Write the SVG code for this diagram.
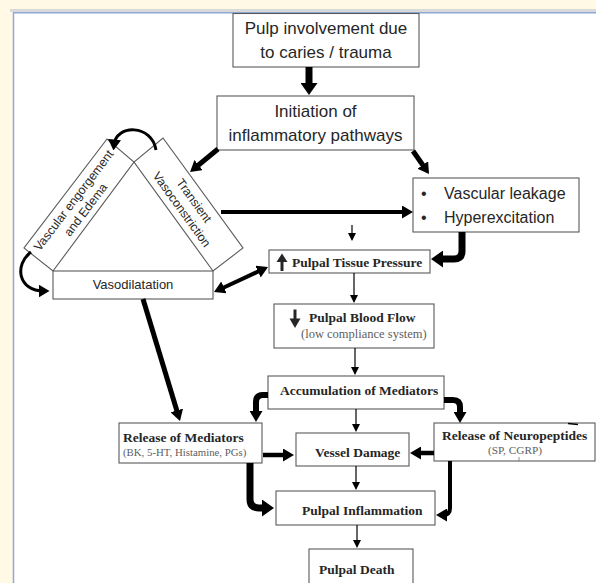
<svg xmlns="http://www.w3.org/2000/svg" width="596" height="583" viewBox="0 0 596 583">
<defs>
<style>
.box{fill:#fff;stroke:#5a5a5a;stroke-width:1.1}
.sans{font-family:"Liberation Sans",Arial,sans-serif;fill:#262626}
.serb{font-family:"Liberation Serif","Times New Roman",serif;font-weight:bold;fill:#262626;font-size:13.5px}
.sub{font-family:"Liberation Serif","Times New Roman",serif;fill:#5e5e5e}
.c{fill:none;stroke:#000}
.thin{stroke-width:1.2;marker-end:url(#hs)}
</style>
<marker id="hb" viewBox="0 0 10 10" preserveAspectRatio="none" markerUnits="userSpaceOnUse" markerWidth="12" markerHeight="17" refX="4" refY="5" orient="auto-start-reverse"><path d="M0,0L10,5L0,10z" fill="#000"/></marker>
<marker id="hm" viewBox="0 0 10 10" preserveAspectRatio="none" markerUnits="userSpaceOnUse" markerWidth="11" markerHeight="13" refX="5" refY="5" orient="auto-start-reverse"><path d="M0,0L10,5L0,10z" fill="#000"/></marker>
<marker id="hs" viewBox="0 0 10 10" preserveAspectRatio="none" markerUnits="userSpaceOnUse" markerWidth="8" markerHeight="8" refX="8" refY="5" orient="auto"><path d="M0,0L10,5L0,10z" fill="#000"/></marker>
</defs>

<rect width="596" height="583" fill="#FFF9E6"/>
<rect x="10" y="9" width="586" height="3" fill="#D9D9D9"/>
<rect x="13.5" y="12.75" width="590" height="580" fill="#fff" stroke="#8EA9D6" stroke-width="1.5"/>

<g id="triangle">
<polygon class="box" points="53,271 134,162 107,139 24,248"/>
<polygon class="box" points="213,271 134,162 163,138 243,248"/>
<text class="sans" font-size="12.3" text-anchor="middle" transform="translate(79.5,205) rotate(-52.7)"><tspan x="0" y="-3.3">Vascular engorgement</tspan><tspan x="0" y="11.9">and Edema</tspan></text>
<text class="sans" font-size="12.3" text-anchor="middle" transform="translate(188,205) rotate(54)"><tspan x="0" y="-3.3">Transient</tspan><tspan x="0" y="11.9">Vasoconstriction</tspan></text>
</g>

<g id="vasodilatation">
<rect class="box" x="53" y="271" width="160" height="28"/>
<text class="sans" font-size="13" x="133" y="289" text-anchor="middle">Vasodilatation</text>
</g>

<g id="pulp-involvement">
<rect class="box" x="233" y="13.5" width="186" height="53.5"/>
<text class="sans" font-size="17" x="326" y="34" text-anchor="middle">Pulp involvement due</text>
<text class="sans" font-size="17" x="326" y="58" text-anchor="middle">to caries / trauma</text>
</g>

<g id="initiation">
<rect class="box" x="217" y="96" width="197" height="54"/>
<text class="sans" font-size="17" x="315.5" y="117" text-anchor="middle">Initiation of</text>
<text class="sans" font-size="17" x="315.5" y="141" text-anchor="middle">inflammatory pathways</text>
</g>

<g id="vascular-leakage">
<rect class="box" x="413" y="178" width="166" height="54"/>
<text class="sans" font-size="16" x="421" y="199">•</text>
<text class="sans" font-size="16" x="444" y="199">Vascular leakage</text>
<text class="sans" font-size="16" x="421" y="223">•</text>
<text class="sans" font-size="16" x="444" y="223">Hyperexcitation</text>
</g>

<g id="tissue-pressure">
<rect class="box" x="269" y="250" width="161" height="23"/>
<path d="M282,271V260" stroke="#262626" stroke-width="3"/>
<path d="M276.5,262L282,253.5L287.5,262z" fill="#262626"/>
<text class="serb" x="292" y="266.5">Pulpal Tissue Pressure</text>
</g>

<g id="blood-flow">
<rect class="box" x="274" y="304" width="160" height="44"/>
<path d="M295,309.5V320" stroke="#262626" stroke-width="3"/>
<path d="M289.5,318.5L295,328L300.5,318.5z" fill="#262626"/>
<text class="serb" x="309" y="321.5">Pulpal Blood Flow</text>
<text class="sub" font-size="12.5" x="301" y="337.5">(low compliance system)</text>
</g>

<g id="accumulation">
<rect class="box" x="268" y="376" width="176" height="33"/>
<text class="serb" x="280" y="394.5" font-size="13.6">Accumulation of Mediators</text>
</g>

<g id="release-mediators">
<rect class="box" x="119" y="423" width="143" height="40"/>
<text class="serb" x="123" y="441.5">Release of Mediators</text>
<text class="sub" font-size="10.8" x="123" y="455.5">(BK, 5-HT, Histamine, PGs)</text>
</g>

<g id="vessel-damage">
<rect class="box" x="296" y="433" width="113" height="33"/>
<text class="serb" x="315" y="456.5" font-size="13.6">Vessel Damage</text>
</g>

<g id="release-neuropeptides">
<rect class="box" x="434" y="423" width="161" height="38"/>
<text class="serb" x="442" y="439.5">Release of Neuropeptides</text>
<text class="sub" font-size="11.3" x="515" y="453.5" text-anchor="middle">(SP, CGRP)</text>
<path d="M519,457V461" stroke="#777" stroke-width="0.8"/>
<path d="M568,423.5L578,424.5" stroke="#000" stroke-width="1.5"/>
</g>

<g id="inflammation">
<rect class="box" x="276" y="491" width="159" height="34"/>
<text class="serb" x="302" y="514.5" font-size="13.6">Pulpal Inflammation</text>
</g>

<g id="death">
<rect class="box" x="309" y="549" width="104" height="40"/>
<text class="serb" x="319" y="573.5" font-size="13.6">Pulpal Death</text>
</g>

<g id="connectors">
<path class="c" d="M309,67V87.8" stroke-width="7" marker-end="url(#hb)"/>
<path class="c" d="M218,149L194.3,168.5" stroke-width="5" marker-end="url(#hm)"/>
<path class="c" d="M413,151L425.9,169.5" stroke-width="5" marker-end="url(#hm)"/>
<path class="c" d="M221,212H407.5" stroke-width="4" marker-end="url(#hm)"/>
<path class="c thin" d="M352,225V239.4"/>
<path class="c" d="M462,232V251Q462,259 454,259H438.2" stroke-width="7" marker-end="url(#hb)"/>
<path class="c" d="M219,289.7L263,269.3" stroke-width="4" marker-start="url(#hm)" marker-end="url(#hm)"/>
<path class="c thin" d="M354,273V301.4"/>
<path class="c thin" d="M355,348V373.4"/>
<path class="c" d="M268,395H263Q256,395 256,402V416.5" stroke-width="6" marker-end="url(#hm)"/>
<path class="c" d="M444,400H453Q460,400 460,407V417.5" stroke-width="6" marker-end="url(#hm)"/>
<path class="c thin" d="M356,409V430.4"/>
<path class="c" d="M143,299L178.4,415.7" stroke-width="5" marker-end="url(#hm)"/>
<path class="c" d="M263,455H288.5" stroke-width="4.5" marker-end="url(#hm)"/>
<path class="c" d="M434,453H415.5" stroke-width="4.5" marker-end="url(#hm)"/>
<path class="c thin" d="M356,466V488.4"/>
<path class="c" d="M250,463V499Q250,508 259,508H266.8" stroke-width="7" marker-end="url(#hb)"/>
<path class="c" d="M450,461V508Q450,515 443,515H441.5" stroke-width="4" marker-end="url(#hm)"/>
<path class="c thin" d="M357,525V546.4"/>
<path class="c" d="M156,150C152,124 116,124 114,145" stroke-width="3" marker-end="url(#hm)"/>
<path class="c" d="M31,252C14,265 18,291 44,291" stroke-width="3" marker-end="url(#hm)"/>
</g>
</svg>
